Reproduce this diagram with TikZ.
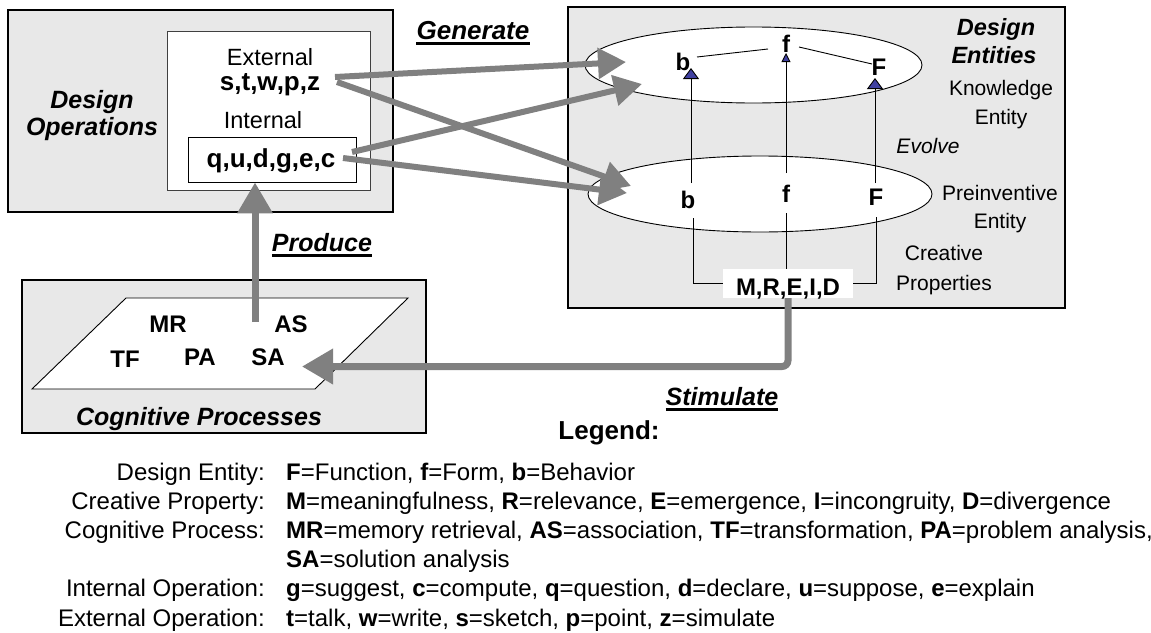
\documentclass[tikz,border=0pt]{standalone}
\usepackage{fontspec}
\setmainfont{Liberation Sans}
\usetikzlibrary{arrows.meta,calc,shapes.geometric}
\definecolor{boxgray}{RGB}{232,232,232}
\definecolor{arrgray}{RGB}{128,128,128}
\definecolor{triblue}{RGB}{64,64,160}
\begin{document}
\begin{tikzpicture}[x=1pt,y=-1pt,
  every node/.style={inner sep=0pt},
  tReg/.style={font=\fontsize{23.5}{28}\selectfont},
  tSmall/.style={font=\fontsize{21}{25}\selectfont},
  tEvolve/.style={font=\fontsize{21}{25}\selectfont\itshape},
  tBold/.style={font=\fontsize{24}{28}\selectfont\bfseries},
  tBig/.style={font=\fontsize{26}{30}\selectfont\bfseries},
  tTitle/.style={font=\fontsize{25}{30}\selectfont\bfseries\itshape},
  tTitleS/.style={font=\fontsize{23.5}{28}\selectfont\bfseries\itshape},
  tLeg/.style={font=\fontsize{24}{28}\selectfont},
  outerbox/.style={draw=black, line width=1.5pt, fill=boxgray},
  genarrow/.style={draw=arrgray, line width=6pt, -{Triangle[length=28pt,width=30pt]}},
  bigarrow/.style={draw=arrgray, line width=7pt, -{Triangle[length=31pt,width=34pt]}},
  thinline/.style={draw=black, line width=0.9pt},
  evo/.style={draw=black, line width=0.9pt, -{Triangle[length=11pt,width=16pt,fill=triblue]}},
  evosmall/.style={draw=black, line width=0.9pt, -{Triangle[length=9pt,width=9pt,fill=triblue]}},
  ulbar/.style={line width=2.6pt, line cap=butt},
]
\useasboundingbox (0,0) rectangle (1151,632);

% ---------- Design Operations ----------
\node[outerbox, minimum width=385pt, minimum height=202pt] (doBox) at (200.5,111) {};
\node[draw=black!75, line width=0.9pt, fill=white, minimum width=203pt, minimum height=159pt] (doInner) at (268.5,110.5) {};
\node[tTitle, anchor=base] (doT1) at (92,108) {Design};
\node[tTitle, anchor=base] (doT2) at (92,135) {Operations};
\node[tReg, anchor=base] (ext) at (270,65) {External};
\node[tBig, anchor=base] (stwpz) at (270,90) {s,t,w,p,z};
\node[tReg, anchor=base] (intl) at (263,128) {Internal};
\node[draw=black, line width=0.9pt, fill=white, minimum width=168pt, minimum height=45pt] (qbox) at (272,159.5) {};
\node[tBig, anchor=base] (qudgec) at (271,167) {q,u,d,g,e,c};

% ---------- Design Entities ----------
\node[outerbox, minimum width=497pt, minimum height=301pt] (deBox) at (816.5,157.5) {};
\node[draw=black, line width=0.9pt, fill=white, ellipse, minimum width=337pt, minimum height=76pt] (ke) at (753.5,65) {};
\node[draw=black, line width=0.9pt, fill=white, ellipse, minimum width=344pt, minimum height=76pt] (pe) at (760,194) {};

\node[tBold, anchor=base] (ub) at (683,70) {b};
\node[tBold, anchor=base] (uf) at (786,52) {f};
\node[tBold, anchor=base] (uF) at (879,75) {F};
\node[tBold, anchor=base] (lb) at (688,208) {b};
\node[tBold, anchor=base] (lf) at (786,202) {f};
\node[tBold, anchor=base] (lF) at (876,205) {F};

\coordinate (ubR) at (697,57);
\coordinate (ufL) at (768,49);
\coordinate (ufR) at (799,47);
\coordinate (uFL) at (872,64);
\draw[thinline] (ubR) -- (ufL);
\draw[thinline] (ufR) -- (uFL);

\coordinate (lbTop) at (691,183);
\coordinate (ubTip) at (691,68);
\coordinate (lfTop) at (786,173);
\coordinate (ufTip) at (786,53);
\coordinate (lFTop) at (875,183);
\coordinate (uFTip) at (875,78);
\draw[evo] (lbTop) -- (ubTip);
\draw[evosmall] (lfTop) -- (ufTip);
\draw[evo] (lFTop) -- (uFTip);

\node[fill=white, minimum width=130pt, minimum height=29pt] (mreBox) at (788,283.5) {};
\node[tBold, anchor=base] (mre) at (788,295) {M,R,E,I,D};
\coordinate (lbBot) at (693,218);
\coordinate (lfBot) at (786,213);
\coordinate (lFBot) at (876,217);
\draw[thinline] (lbBot) |- (mreBox.west);
\draw[thinline] (lfBot) -- (lfBot |- mreBox.north);
\draw[thinline] (lFBot) |- (mreBox.east);

\node[tTitleS, anchor=base] (deT1) at (996,35) {Design};
\node[tTitleS, anchor=base] (deT2) at (994,63) {Entities};
\node[tSmall, anchor=base] (kn1) at (1001,95) {Knowledge};
\node[tSmall, anchor=base] (kn2) at (1001,124) {Entity};
\node[tEvolve, anchor=base] (evolve) at (928,153) {Evolve};
\node[tSmall, anchor=base] (pr1) at (1000,200) {Preinventive};
\node[tSmall, anchor=base] (pr2) at (1000,228) {Entity};
\node[tSmall, anchor=base] (cp1) at (944,260) {Creative};
\node[tSmall, anchor=base] (cp2) at (944,290) {Properties};

% ---------- Cognitive Processes ----------
\node[outerbox, minimum width=404pt, minimum height=153pt] (cgBox) at (224,356.5) {};
\coordinate (pgA) at (126,298);
\coordinate (pgB) at (408,298);
\coordinate (pgC) at (315,389);
\coordinate (pgD) at (32,389);
\draw[thinline, fill=white] (pgA) -- (pgB) -- (pgC) -- (pgD) -- cycle;
\node[tBold, anchor=base] (mr) at (168,332) {MR};
\node[tBold, anchor=base] (as) at (291,332) {AS};
\node[tBold, anchor=base] (tf) at (125,367) {TF};
\node[tBold, anchor=base] (pa) at (200,365) {PA};
\node[tBold, anchor=base] (sa) at (268,365) {SA};
\node[tTitle, anchor=base] (cgT) at (199,425) {Cognitive Processes};

% ---------- Generate arrows ----------
\coordinate (g1s) at (335,77);
\coordinate (g1e) at (626,62);
\coordinate (g2s) at (337,82);
\coordinate (g2e) at (631,186);
\coordinate (g3s) at (352,152);
\coordinate (g3e) at (642,84);
\coordinate (g4s) at (343,158);
\coordinate (g4e) at (627,193);
\draw[genarrow] (g1s) -- (g1e);
\draw[genarrow] (g2s) -- (g2e);
\draw[genarrow] (g3s) -- (g3e);
\draw[genarrow] (g4s) -- (g4e);

% ---------- Produce arrow ----------
\coordinate (prodStart) at (255,322);
\draw[bigarrow] (prodStart) -- (prodStart |- qbox.south);

% ---------- Stimulate arrow ----------
\coordinate (stimBend) at (788,366.5);
\coordinate (stimTip) at (302,366.5);
\draw[bigarrow, rounded corners=6pt] (mreBox.south) -- (stimBend) -- (stimTip);

% ---------- Labels ----------
\node[tTitle, font=\fontsize{26}{30}\selectfont\bfseries\itshape, anchor=base] (gen) at (473,39) {Generate};
\draw[ulbar] ([yshift=-4.5pt]gen.base west) -- ([yshift=-4.5pt]gen.base east);
\node[tTitle, anchor=base] (prod) at (322,251) {Produce};
\draw[ulbar] ([yshift=-4.5pt]prod.base west) -- ([yshift=-4.5pt]prod.base east);
\node[tTitle, anchor=base] (stim) at (722,405) {Stimulate};
\draw[ulbar] ([yshift=-4.5pt]stim.base west) -- ([yshift=-4.5pt]stim.base east);

% ---------- Legend ----------
\node[font=\fontsize{26}{30}\selectfont\bfseries, anchor=base] (legend) at (609,439) {Legend:};
\node[tLeg, anchor=base east] (l1) at (265,480) {Design Entity:};
\node[tLeg, anchor=base west] (v1) at (286,480) {\textbf{F}=Function, \textbf{f}=Form, \textbf{b}=Behavior};
\node[tLeg, anchor=base east] (l2) at (265,509.2) {Creative Property:};
\node[tLeg, anchor=base west] (v2) at (286,509.2) {\textbf{M}=meaningfulness, \textbf{R}=relevance, \textbf{E}=emergence, \textbf{I}=incongruity, \textbf{D}=divergence};
\node[tLeg, anchor=base east] (l3) at (265,538.4) {Cognitive Process:};
\node[tLeg, anchor=base west] (v3) at (286,538.4) {\textbf{MR}=memory retrieval, \textbf{AS}=association, \textbf{TF}=transformation, \textbf{PA}=problem analysis,};
\node[tLeg, anchor=base west] (v3b) at (286,567.6) {\textbf{SA}=solution analysis};
\node[tLeg, anchor=base east] (l4) at (265,596.8) {Internal Operation:};
\node[tLeg, anchor=base west] (v4) at (286,596.8) {\textbf{g}=suggest, \textbf{c}=compute, \textbf{q}=question, \textbf{d}=declare, \textbf{u}=suppose, \textbf{e}=explain};
\node[tLeg, anchor=base east] (l5) at (265,626) {External Operation:};
\node[tLeg, anchor=base west] (v5) at (286,626) {\textbf{t}=talk, \textbf{w}=write, \textbf{s}=sketch, \textbf{p}=point, \textbf{z}=simulate};
\end{tikzpicture}
\end{document}
